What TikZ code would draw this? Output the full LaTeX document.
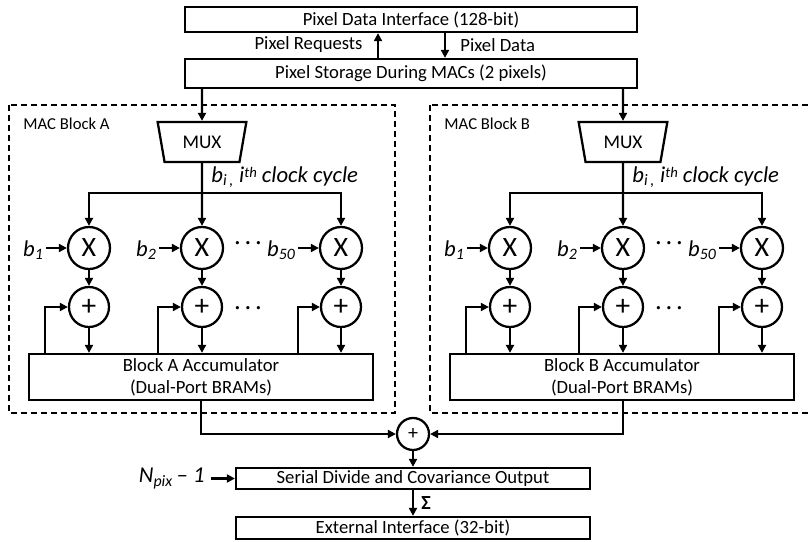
\documentclass[tikz,border=0pt]{standalone}
\usepackage{fontspec}
\setmainfont{Carlito}
\usetikzlibrary{arrows.meta,shapes.geometric}
\begin{document}
\begin{tikzpicture}[x=0.75pt,y=-0.75pt,line width=1.7pt,
  box/.style={draw,rectangle,inner sep=0pt,align=center,font=\fontsize{14}{16.5}\selectfont},
  arr/.style={-{Triangle[length=6pt,width=6pt]}},
  lbl/.style={inner sep=1pt,font=\fontsize{14}{16}\selectfont},
  ital/.style={inner sep=1pt,font=\fontsize{17}{19}\selectfont\itshape},
  mulc/.style={draw,circle,inner sep=0pt,minimum size=31.5pt,font=\fontsize{21}{21}\selectfont},
  addc/.style={draw,circle,inner sep=0pt,minimum size=30pt,font=\fontsize{22}{22}\selectfont},
  muxbox/.style={draw,trapezium,shape border rotate=180,trapezium angle=74,trapezium stretches=true,
     minimum width=66.75pt,minimum height=30pt,inner sep=0pt,font=\fontsize{14.5}{14.5}\selectfont},
  dashbox/.style={draw,dash pattern=on 4.5pt off 3pt},
  dotsl/.style={inner sep=0pt,anchor=base,font=\fontsize{17}{19}\selectfont}]
\useasboundingbox (0,0) rectangle (811,542);
% top boxes
\node[box,minimum width=339pt,minimum height=18.75pt] (pdi) at (411,19.5) {Pixel Data Interface (128-bit)};
\node[box,minimum width=339pt,minimum height=21.75pt] (pst) at (411,73.5) {Pixel Storage During MACs (2 pixels)};
\coordinate (req) at (378,46);
\coordinate (dat) at (445,46);
\draw[arr] (pst.north -| req) -- (pdi.south -| req);
\draw[arr] (pdi.south -| dat) -- (pst.north -| dat);
\node[lbl,anchor=east] (reqlbl) at (365,45) {Pixel Requests};
\node[lbl,anchor=west] (datlbl) at (458,45) {Pixel Data};
% blocks
\foreach \blk/\off in {A/0,B/421}{
  \draw[dashbox] (9+\off,105) rectangle (395+\off,413);
  \node[inner sep=1pt,anchor=west,font=\fontsize{12.5}{14}\selectfont] (mac\blk) at (21+\off,124) {MAC Block \blk};
  \node[muxbox] (mux\blk) at (202+\off,142) {MUX};
  \draw[arr] (pst.south -| mux\blk.center) -- (mux\blk.north);
  \node[ital,anchor=base west] (bi\blk) at (209+\off,182) {b\textsubscript{i\,,} i\raisebox{0.45ex}{\fontsize{11}{11}\selectfont th} clock cycle};
  \node[mulc] (x\blk1) at (89+\off,248) {X};
  \node[mulc] (x\blk2) at (202+\off,248) {X};
  \node[mulc] (x\blk3) at (341+\off,248) {X};
  \node[addc] (p\blk1) at (89+\off,307) {+};
  \node[addc] (p\blk2) at (202+\off,307) {+};
  \node[addc] (p\blk3) at (341+\off,307) {+};
  \coordinate (br\blk) at (202+\off,193);
  \draw[arr] (mux\blk.south) -- (x\blk2);
  \draw[arr] (br\blk) -| (x\blk1);
  \draw[arr] (br\blk) -| (x\blk3);
  \node[ital,anchor=east] (b\blk1) at (46+\off,250) {b\textsubscript{1}};
  \node[ital,anchor=east] (b\blk2) at (159+\off,250) {b\textsubscript{2}};
  \node[ital,anchor=east] (b\blk3) at (298+\off,250) {b\textsubscript{50}};
  \draw[arr] (b\blk1.east |- x\blk1.west) -- (x\blk1.west);
  \draw[arr] (b\blk2.east |- x\blk2.west) -- (x\blk2.west);
  \draw[arr] (b\blk3.east |- x\blk3.west) -- (x\blk3.west);
  \node[dotsl] (dx\blk) at (248+\off,249.5) {·\hspace{3.6pt}·\hspace{3.6pt}·};
  \node[dotsl] (dp\blk) at (248+\off,314.5) {·\hspace{3.6pt}·\hspace{3.6pt}·};
  \draw[arr] (x\blk1) -- (p\blk1);
  \draw[arr] (x\blk2) -- (p\blk2);
  \draw[arr] (x\blk3) -- (p\blk3);
  \node[box,minimum width=258pt,minimum height=34.5pt] (acc\blk) at (201+\off,377) {Block \blk{} Accumulator\\(Dual-Port BRAMs)};
  \draw[arr] (p\blk1) -- (acc\blk.north -| p\blk1);
  \draw[arr] (p\blk2) -- (acc\blk.north -| p\blk2);
  \draw[arr] (p\blk3) -- (acc\blk.north -| p\blk3);
  \coordinate (fb\blk1) at (45+\off,307);
  \coordinate (fb\blk2) at (158+\off,307);
  \coordinate (fb\blk3) at (298+\off,307);
  \draw[arr] (acc\blk.north -| fb\blk1) -- (fb\blk1) -- (p\blk1.west);
  \draw[arr] (acc\blk.north -| fb\blk2) -- (fb\blk2) -- (p\blk2.west);
  \draw[arr] (acc\blk.north -| fb\blk3) -- (fb\blk3) -- (p\blk3.west);
}
% final sum
\node[draw,circle,inner sep=0pt,minimum size=24pt,font=\fontsize{15}{15}\selectfont] (sum) at (413,434) {+};
\draw[arr] (accA.south) |- (sum.west);
\draw[arr] ([xshift=0.75pt]accB.south) |- (sum.east);
\node[box,minimum width=265.5pt,minimum height=15.75pt] (ser) at (413,478.5) {Serial Divide and Covariance Output};
\node[box,minimum width=265.5pt,minimum height=16.5pt] (ext) at (413,528) {External Interface (32-bit)};
\draw[arr] (sum) -- (ser.north -| sum);
\draw[arr] (ser.south -| sum) -- (ext.north -| sum);
\node[inner sep=1pt,anchor=west,font=\fontsize{15}{15}\selectfont\bfseries] (sig) at (419,503) {Σ};
\node[ital,anchor=east,inner sep=4pt] (npix) at (211,478.5) {N\textsubscript{pix}\,– 1};
\draw[arr] (npix.east) -- (npix.east -| ser.west);
\end{tikzpicture}
\end{document}
